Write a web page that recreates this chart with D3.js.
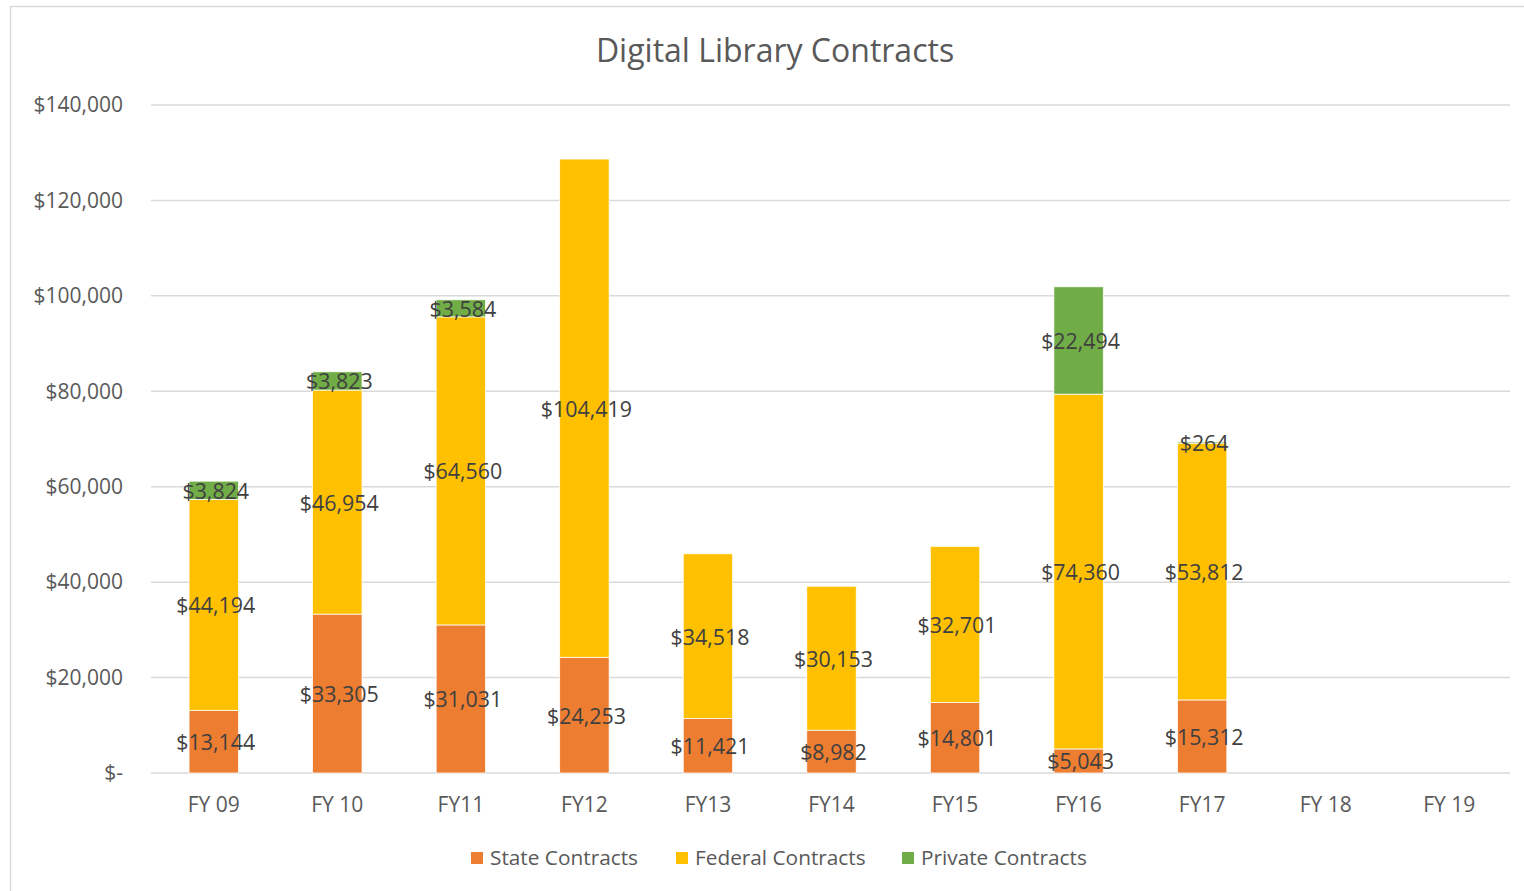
<!DOCTYPE html>
<html>
<head>
<meta charset="utf-8">
<script src="https://cdn.jsdelivr.net/npm/d3@7"></script>
<style>
  body { margin: 0; background: #fff; }
  svg { display: block; font-family: "Open Sans", sans-serif; }
</style>
</head>
<body>
<div id="chart"></div>
<script>
// chart values
const years = ["FY 09", "FY 10", "FY11", "FY12", "FY13", "FY14", "FY15", "FY16", "FY17", "FY 18", "FY 19"];
const stateContracts   = [13144, 33305, 31031, 24253, 11421, 8982, 14801, 5043, 15312, 0, 0];
const federalContracts = [44194, 46954, 64560, 104419, 34518, 30153, 32701, 74360, 53812, 0, 0];
const privateContracts = [3824, 3823, 3584, 0, 0, 0, 0, 22494, 264, 0, 0];
const seriesNames = ["State Contracts", "Federal Contracts", "Private Contracts"];
const yTicks = [0, 20000, 40000, 60000, 80000, 100000, 120000, 140000];

const width = 1524, height = 891;
const margin = { top: 105, right: 14, bottom: 118, left: 151 };
const colors = ["#ED7D31", "#FFC000", "#70AD47"];

// rows for d3.stack
const rows = years.map((y, i) => ({
    year: y,
    s0: stateContracts[i],
    s1: federalContracts[i],
    s2: privateContracts[i]
}));
const keys = ["s0", "s1", "s2"];
const stacked = d3.stack().keys(keys)(rows);

const svg = d3.select("#chart").append("svg")
    .attr("width", width)
    .attr("height", height);

// outer chart border
svg.append("rect")
    .attr("x", 10.5).attr("y", 6.5)
    .attr("width", width + 20).attr("height", height + 20)
    .attr("fill", "#fff")
    .attr("stroke", "#d9d9d9")
    .attr("stroke-width", 1.5);

const x = d3.scaleBand()
    .domain(years)
    .range([margin.left + 1, width - margin.right + 1])
    .paddingInner(0.6)
    .paddingOuter(0.3);

const y = d3.scaleLinear()
    .domain([0, 140000])
    .range([height - margin.bottom, margin.top]);

// gridlines
svg.append("g")
    .selectAll("line")
    .data(yTicks)
    .join("line")
    .attr("x1", margin.left)
    .attr("x2", width - margin.right)
    .attr("y1", d => y(d))
    .attr("y2", d => y(d))
    .attr("stroke", "#d9d9d9")
    .attr("stroke-width", 1.5);

// y axis labels
const money = d3.format("$,");
svg.append("g")
    .selectAll("text")
    .data(yTicks)
    .join("text")
    .attr("x", 123)
    .attr("y", d => y(d))
    .attr("dy", "0.35em")
    .attr("text-anchor", "end")
    .attr("fill", "#595959")
    .style("font-size", "21px")
    .text(d => d === 0 ? "$-" : money(d));

// x axis labels
svg.append("g")
    .selectAll("text")
    .data(years)
    .join("text")
    .attr("x", d => x(d) + x.bandwidth() / 2)
    .attr("y", 805)
    .attr("dy", "0.35em")
    .attr("text-anchor", "middle")
    .attr("fill", "#595959")
    .style("font-size", "21px")
    .text(d => d);

// bars
const layer = svg.append("g")
    .selectAll("g")
    .data(stacked)
    .join("g")
    .attr("fill", (d, i) => colors[i]);

layer.selectAll("rect")
    .data(d => d.filter(p => p[1] - p[0] > 0))
    .join("rect")
    .attr("x", d => x(d.data.year))
    .attr("width", x.bandwidth())
    .attr("y", d => y(d[1]))
    .attr("height", d => y(d[0]) - y(d[1]))
    .attr("stroke", "#fff")
    .attr("stroke-width", 0.75);

// data labels, sit a touch right of centre like the original
layer.selectAll("text")
    .data(d => d.filter(p => p[1] - p[0] > 0))
    .join("text")
    .attr("x", d => x(d.data.year) + x.bandwidth() / 2 + 2)
    .attr("y", d => (y(d[0]) + y(d[1])) / 2 + 1)
    .attr("dy", "0.35em")
    .attr("text-anchor", "middle")
    .attr("fill", "#404040")
    .style("font-size", "21.4px")
    .text(d => money(d[1] - d[0]));

// title
svg.append("text")
    .attr("x", 775)
    .attr("y", 51)
    .attr("dy", "0.35em")
    .attr("text-anchor", "middle")
    .attr("fill", "#595959")
    .style("font-size", "32px")
    .text("Digital Library Contracts");

// legend
const legendX = [471, 676, 902];
const legend = svg.append("g")
    .selectAll("g")
    .data(seriesNames)
    .join("g")
    .attr("transform", (d, i) => `translate(${legendX[i]}, 858)`);

legend.append("rect")
    .attr("x", 0).attr("y", -6)
    .attr("width", 12).attr("height", 12)
    .attr("fill", (d, i) => colors[i]);

legend.append("text")
    .attr("x", 19)
    .attr("dy", "0.35em")
    .attr("fill", "#595959")
    .style("font-size", "20.8px")
    .text(d => d);
</script>
</body>
</html>
